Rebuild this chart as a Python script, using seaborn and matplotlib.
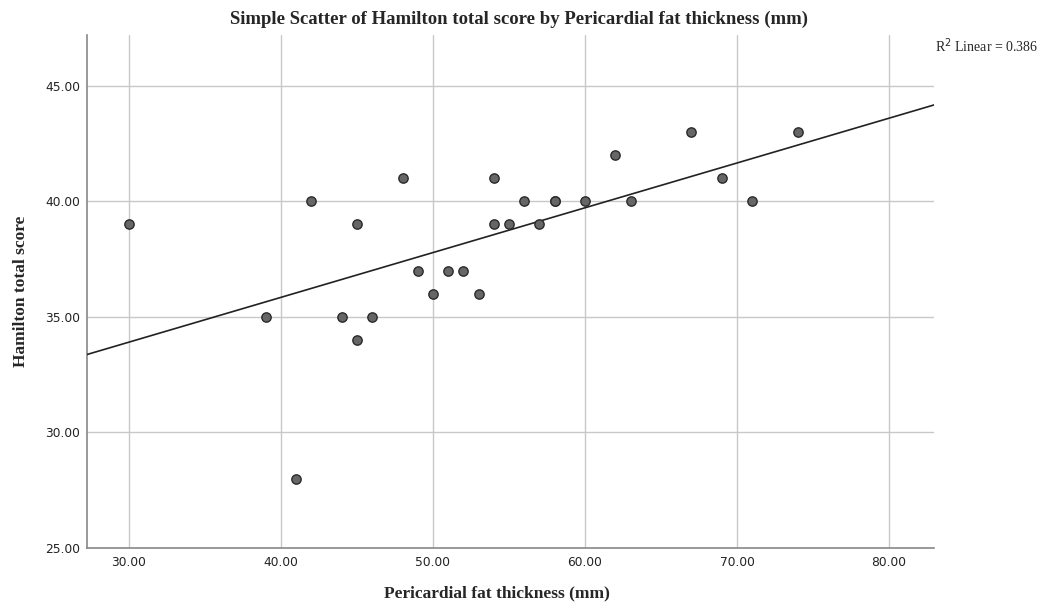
import numpy as np
import pandas as pd
import matplotlib
matplotlib.use("Agg")
import matplotlib.pyplot as plt
import seaborn as sns

fat = [30, 39, 41, 42, 44, 45, 45, 46, 48, 49, 50, 51, 52, 53, 54, 54, 55, 56, 57, 58, 58, 60, 62, 63, 67, 69, 71, 74]
ham = [39, 35, 28, 40, 35, 39, 34, 35, 41, 37, 36, 37, 37, 36, 41, 39, 39, 40, 39, 40, 40, 40, 42, 40, 43, 41, 40, 43]
xticks = [30, 40, 50, 60, 70, 80]
yticks = [25, 30, 35, 40, 45]
r2_text = "R$^2$ Linear = 0.386"

df = pd.DataFrame({"fat": fat, "ham": ham})

sns.set_style("white")
fig = plt.figure(figsize=(10.42, 6.08), dpi=100)
ax = fig.add_axes([87/1042, 60/608, (934-87)/1042, (548-35)/608])

xlim = (27.24, 82.96)
ylim = (25.0, 47.2)

ax.set_xlim(*xlim)
ax.set_ylim(*ylim)
ax.set_xticks(xticks)
ax.set_yticks(yticks)
ax.set_xticklabels([f"{v:.2f}" for v in xticks])
ax.set_yticklabels([f"{v:.2f}" for v in yticks])
ax.grid(True, color="#c8c8c8", linewidth=1.0)
ax.set_axisbelow(True)
ax.tick_params(axis="x", length=0, labelsize=8.8, colors="#222222", pad=6)
ax.tick_params(axis="y", length=0, labelsize=8.8, colors="#222222", pad=5)

# regression line over full x range
coef = np.polyfit(df["fat"], df["ham"], 1)
xs = np.array(xlim)
sns.lineplot(x=xs, y=np.polyval(coef, xs), ax=ax, color="#222222", linewidth=1.2, zorder=3)

sns.scatterplot(data=df, x="fat", y="ham", ax=ax, s=45, color="#666666",
                edgecolor="#2a2a2a", linewidth=1.0, zorder=4)

for s in ["top", "right"]:
    ax.spines[s].set_visible(False)
for s in ["left", "bottom"]:
    ax.spines[s].set_color("#888888")
    ax.spines[s].set_linewidth(1.2)

serif = ["Liberation Serif", "DejaVu Serif"]
ax.set_title("Simple Scatter of Hamilton total score by Pericardial fat thickness (mm)",
             family=serif, fontweight="bold", fontsize=13.5, pad=8)
ax.title.set_x((519 - 87) / 847)
ax.set_xlabel("Pericardial fat thickness (mm)", family=serif, fontweight="bold", fontsize=12.5)
ax.set_ylabel("Hamilton total score", family=serif, fontweight="bold", fontsize=12.5)
ax.xaxis.set_label_coords((497 - 87) / 847, (548 - 585) / 513)
ax.yaxis.set_label_coords((29 - 87) / 847, (548 - 291) / 513)
for lab in ax.get_xticklabels() + ax.get_yticklabels():
    lab.set_family(["DejaVu Sans"])

fig.text(1038/1042, 1 - 46/608, r2_text, family=serif, fontsize=10, ha="right", va="center")

fig.savefig("out.png", dpi=100, facecolor="white")
